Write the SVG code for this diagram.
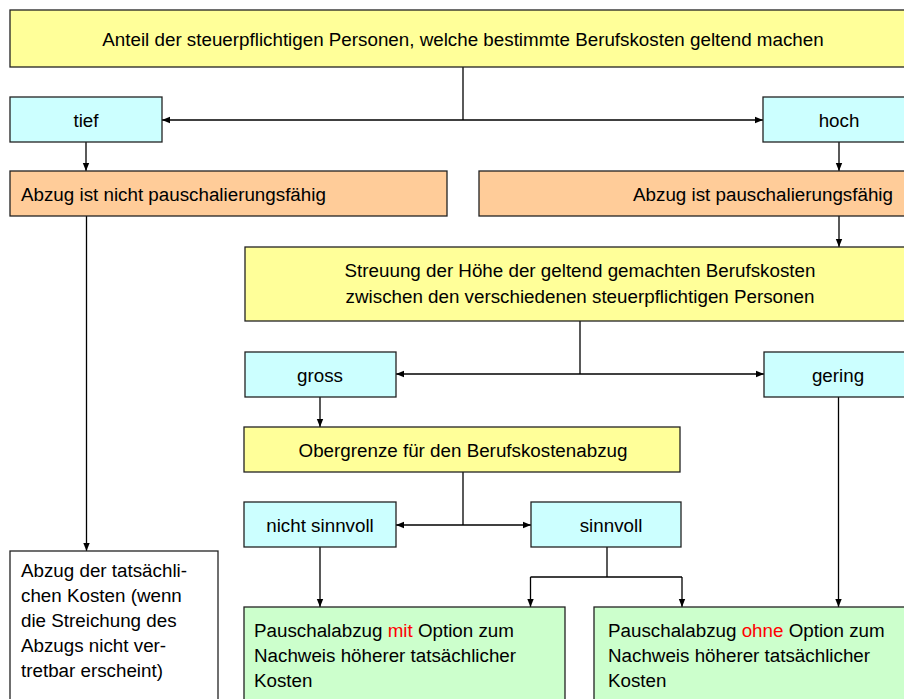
<svg xmlns="http://www.w3.org/2000/svg" width="904" height="699" viewBox="0 0 904 699">
<defs>
<style>
.box{stroke:#222;stroke-width:1.3}
.y{fill:#FFFF99}.c{fill:#CCFFFF}.o{fill:#FFCC99}.g{fill:#CCFFCC}.w{fill:#FFFFFF}
text{font-family:"Liberation Sans",Arial,sans-serif;font-size:18.8px;fill:#000}
.m{text-anchor:middle}
.r{fill:#FF0000}
.ln{stroke:#000;stroke-width:1.3;fill:none}
</style>
<marker id="ah" viewBox="0 0 10 10" refX="10" refY="5" markerWidth="8" markerHeight="8" markerUnits="userSpaceOnUse" orient="auto-start-reverse">
<path d="M0,1 L10,5 L0,9 Z" fill="#000"/>
</marker>
</defs>
<rect width="904" height="699" fill="#fff"/>
<g id="connectors">
<path class="ln" d="M463,67 V120"/>
<path class="ln" d="M162,120 H763" marker-start="url(#ah)" marker-end="url(#ah)" stroke-width="1.6"/>
<path class="ln" d="M86,142 V171" marker-end="url(#ah)"/>
<path class="ln" d="M839,142 V171" marker-end="url(#ah)"/>
<path class="ln" d="M839,216 V247" marker-end="url(#ah)"/>
<path class="ln" d="M86.5,216 V551" marker-end="url(#ah)"/>
<path class="ln" d="M580,321 V374"/>
<path class="ln" d="M396,374 H764" marker-start="url(#ah)" marker-end="url(#ah)"/>
<path class="ln" d="M320,397 V427" marker-end="url(#ah)"/>
<path class="ln" d="M838.5,397 V607" marker-end="url(#ah)" stroke-width="1.6"/>
<path class="ln" d="M463,472 V525"/>
<path class="ln" d="M396,525 H531" marker-start="url(#ah)" marker-end="url(#ah)"/>
<path class="ln" d="M320,547 V607" marker-end="url(#ah)"/>
<path class="ln" d="M607,547 V577"/>
<path class="ln" d="M530.5,577 H682"/>
<path class="ln" d="M530.5,577 V607" marker-end="url(#ah)"/>
<path class="ln" d="M682,577 V607" marker-end="url(#ah)"/>
</g>
<g id="anteil"><rect class="box y" x="10" y="10" width="906" height="57"/><text class="m" x="463" y="46">Anteil der steuerpflichtigen Personen, welche bestimmte Berufskosten geltend machen</text></g>
<g id="tief"><rect class="box c" x="10" y="97" width="152" height="45"/><text class="m" x="86" y="127">tief</text></g>
<g id="hoch"><rect class="box c" x="763" y="97" width="152" height="45"/><text class="m" x="839" y="127">hoch</text></g>
<g id="nicht-pauschal"><rect class="box o" x="10" y="171" width="437" height="45"/><text x="21" y="201">Abzug ist nicht pauschalierungsfähig</text></g>
<g id="pauschal"><rect class="box o" x="479" y="171" width="440" height="45"/><text x="893" y="201" text-anchor="end">Abzug ist pauschalierungsfähig</text></g>
<g id="streuung"><rect class="box y" x="245" y="247" width="672" height="74"/><text class="m" x="580" y="277">Streuung der Höhe der geltend gemachten Berufskosten</text><text class="m" x="580" y="303">zwischen den verschiedenen steuerpflichtigen Personen</text></g>
<g id="gross"><rect class="box c" x="245" y="352" width="151" height="45"/><text class="m" x="320" y="382">gross</text></g>
<g id="gering"><rect class="box c" x="764" y="352" width="152" height="45"/><text class="m" x="838" y="382">gering</text></g>
<g id="obergrenze"><rect class="box y" x="244" y="427" width="436" height="45"/><text class="m" x="463" y="457">Obergrenze für den Berufskostenabzug</text></g>
<g id="nicht-sinnvoll"><rect class="box c" x="244" y="502" width="152" height="45"/><text class="m" x="320" y="532">nicht sinnvoll</text></g>
<g id="sinnvoll"><rect class="box c" x="531" y="502" width="150" height="45"/><text class="m" x="611" y="532">sinnvoll</text></g>
<g id="tatsaechlich"><rect class="box w" x="10" y="551" width="208" height="160"/>
<text x="21" y="577">Abzug der tatsächli-</text>
<text x="21" y="602">chen Kosten (wenn</text>
<text x="21" y="627">die Streichung des</text>
<text x="21" y="652">Abzugs nicht ver-</text>
<text x="21" y="677">tretbar erscheint)</text></g>
<g id="mit-option"><rect class="box g" x="244" y="607" width="321" height="110"/>
<text x="254" y="637">Pauschalabzug <tspan class="r">mit</tspan> Option zum</text>
<text x="254" y="662">Nachweis höherer tatsächlicher</text>
<text x="254" y="687">Kosten</text></g>
<g id="ohne-option"><rect class="box g" x="594" y="607" width="322" height="110"/>
<text x="608" y="637">Pauschalabzug <tspan class="r">ohne</tspan> Option zum</text>
<text x="608" y="662">Nachweis höherer tatsächlicher</text>
<text x="608" y="687">Kosten</text></g>
</svg>
